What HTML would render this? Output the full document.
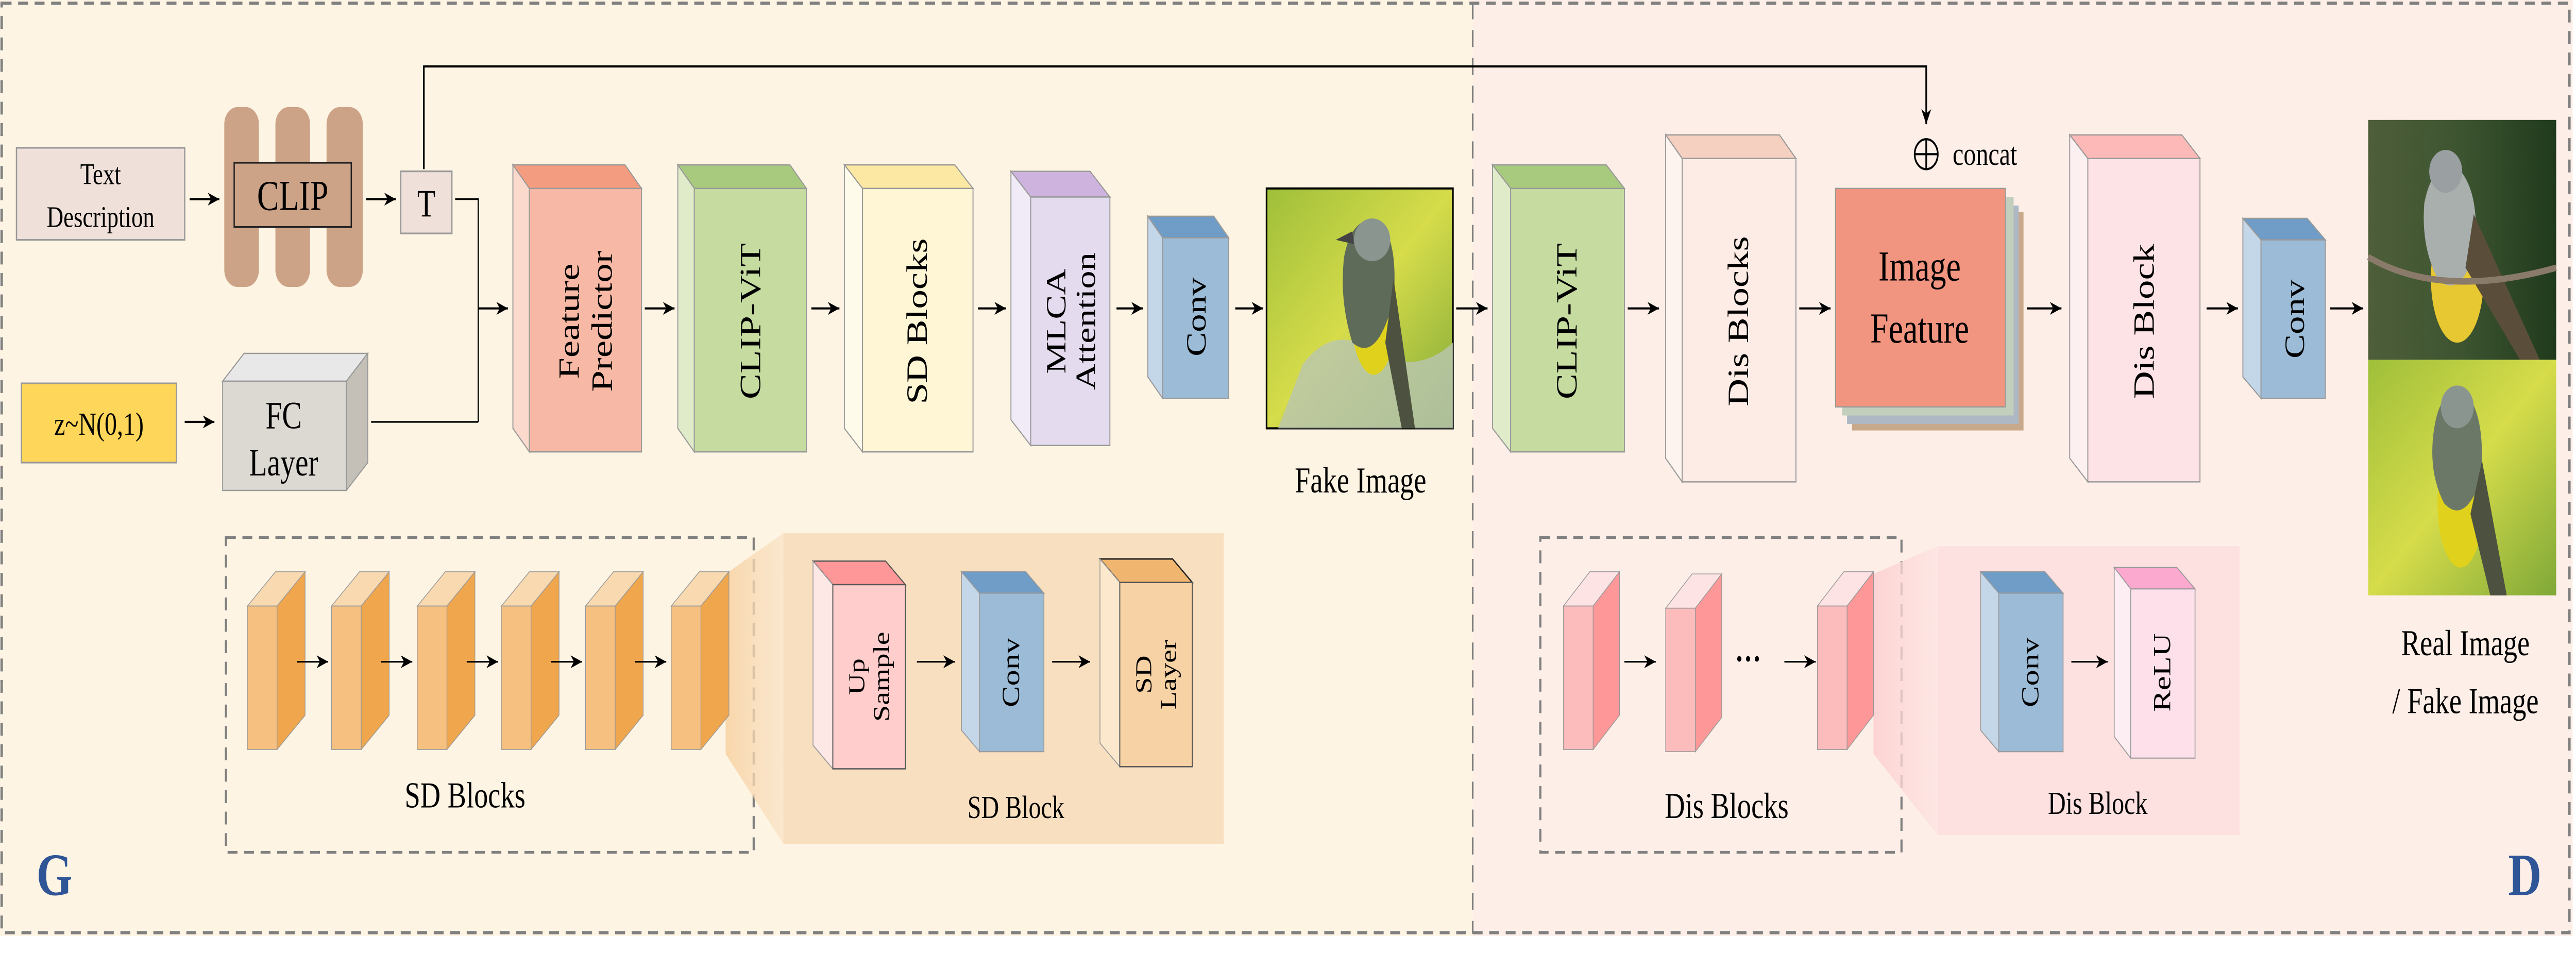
<!DOCTYPE html>
<html><head><meta charset="utf-8">
<style>
html,body{margin:0;padding:0;background:#fff;width:100vw;height:100vh;overflow:hidden;}
svg{display:block;position:fixed;left:0;top:0;width:100vw;height:100vh;}
text{font-family:"Liberation Serif",serif;fill:#000;}
</style></head><body>
<svg viewBox="0 0 1562 445" preserveAspectRatio="none" xmlns="http://www.w3.org/2000/svg">
<defs>
<marker id="a" markerWidth="8" markerHeight="8" refX="7" refY="4" orient="auto" markerUnits="userSpaceOnUse">
<path d="M0,1 L7,4 L0,7 L2,4 Z" fill="#000"/></marker>
<linearGradient id="bg1" x1="0" y1="0" x2="1" y2="1"><stop offset="0" stop-color="#9fbf3a"/><stop offset="0.5" stop-color="#d6dc4a"/><stop offset="1" stop-color="#7fa838"/></linearGradient>
<linearGradient id="bg2" x1="0" y1="0" x2="1" y2="0"><stop offset="0" stop-color="#4e5e3a"/><stop offset="0.5" stop-color="#3d5430"/><stop offset="1" stop-color="#1f3a1c"/></linearGradient>
<linearGradient id="fun1" x1="0" y1="0" x2="1" y2="0"><stop offset="0" stop-color="#f8d3a4" stop-opacity="0.9"/><stop offset="1" stop-color="#f8dfc0" stop-opacity="0.6"/></linearGradient>
<linearGradient id="fun2" x1="0" y1="0" x2="1" y2="0"><stop offset="0" stop-color="#fdd0d0" stop-opacity="0.9"/><stop offset="1" stop-color="#fde0e0" stop-opacity="0.6"/></linearGradient>
</defs>
<rect x="0" y="0" width="893" height="437" fill="#fef4e3"/>
<rect x="893" y="0" width="667" height="437" fill="#fdefe8"/>
<rect x="1" y="1.5" width="1557" height="434" fill="none" stroke="#808080" stroke-width="1.5" stroke-dasharray="6,4"/>
<line x1="893" y1="1" x2="893" y2="436" stroke="#808080" stroke-width="1" stroke-dasharray="8,5"/>

<rect x="10" y="69" width="102" height="43" fill="#efe1d9" stroke="#999" stroke-width="0.8"/>
<text x="61" y="86" font-size="14" text-anchor="middle">Text</text>
<text x="61" y="106" font-size="14" text-anchor="middle">Description</text>
<line x1="115" y1="93" x2="133" y2="93" stroke="#000" marker-end="url(#a)"/>
<rect x="136" y="50" width="21" height="84" rx="8" fill="#cca387"/>
<rect x="167" y="50" width="21" height="84" rx="8" fill="#cca387"/>
<rect x="198" y="50" width="22" height="84" rx="8" fill="#cca387"/>
<rect x="142" y="76" width="71" height="30" fill="#cca387" stroke="#222" stroke-width="0.8"/>
<text x="177.5" y="98" font-size="20" text-anchor="middle">CLIP</text>
<line x1="222" y1="93" x2="240" y2="93" stroke="#000" marker-end="url(#a)"/>
<rect x="243" y="80" width="31" height="29" fill="#efe1d9" stroke="#999" stroke-width="0.8"/>
<text x="258.5" y="101" font-size="18" text-anchor="middle">T</text>
<polyline points="276,93 290,93 290,197" fill="none" stroke="#000" stroke-width="0.8"/>
<polyline points="257,79 257,31 1168,31 1168,58" fill="none" stroke="#000" stroke-width="1" marker-end="url(#a)"/>
<rect x="13" y="179" width="94" height="37" fill="#fed75a" stroke="#999" stroke-width="0.8"/>
<text x="60" y="203" font-size="15" text-anchor="middle">z~N(0,1)</text>
<line x1="112" y1="197" x2="130" y2="197" stroke="#000" marker-end="url(#a)"/>
<polygon points="135,178 148,165 223,165 210,178" fill="#e8e8e8" stroke="#999" stroke-width="0.6"/>
<polygon points="210,178 223,165 223,216 210,229" fill="#c4c0b8" stroke="#999" stroke-width="0.6"/>
<rect x="135" y="178" width="75" height="51" fill="#dcd9d3" stroke="#999" stroke-width="0.6"/>
<text x="172" y="200" font-size="18" text-anchor="middle">FC</text>
<text x="172" y="222" font-size="18" text-anchor="middle">Layer</text>
<line x1="225" y1="197" x2="290" y2="197" stroke="#000" stroke-width="0.8"/>
<line x1="290" y1="144" x2="308" y2="144" stroke="#000" marker-end="url(#a)"/>

<polygon points="311,77 379,77 389,88 321,88" fill="#f49c7f" stroke="#999" stroke-width="0.6"/>
<polygon points="311,77 321,88 321,211 311,200" fill="#fbd9cc" stroke="#999" stroke-width="0.6"/>
<rect x="321" y="88" width="68" height="123" fill="#f7b9a5" stroke="#999" stroke-width="0.6"/>
<text transform="translate(355,150) rotate(-90)" font-size="18" text-anchor="middle"><tspan x="0" y="-4">Feature</tspan><tspan x="0" y="16">Predictor</tspan></text>
<line x1="391" y1="144" x2="409" y2="144" stroke="#000" marker-end="url(#a)"/>
<polygon points="411,77 479,77 489,88 421,88" fill="#a8ca7e" stroke="#999" stroke-width="0.6"/>
<polygon points="411,77 421,88 421,211 411,200" fill="#e0ecc9" stroke="#999" stroke-width="0.6"/>
<rect x="421" y="88" width="68" height="123" fill="#c5dba0" stroke="#999" stroke-width="0.6"/>
<text transform="translate(455,150) rotate(-90)" font-size="18" text-anchor="middle" y="6">CLIP-ViT</text>
<line x1="492" y1="144" x2="509" y2="144" stroke="#000" marker-end="url(#a)"/>
<polygon points="512,77 579,77 590,88 523,88" fill="#fde8a3" stroke="#999" stroke-width="0.6"/>
<polygon points="512,77 523,88 523,211 512,200" fill="#fffbeb" stroke="#999" stroke-width="0.6"/>
<rect x="523" y="88" width="67" height="123" fill="#fff6d5" stroke="#999" stroke-width="0.6"/>
<text transform="translate(556,150) rotate(-90)" font-size="18" text-anchor="middle" y="6">SD Blocks</text>
<line x1="593" y1="144" x2="610" y2="144" stroke="#000" marker-end="url(#a)"/>
<polygon points="613,80 661,80 673,92 625,92" fill="#cdb3dd" stroke="#999" stroke-width="0.6"/>
<polygon points="613,80 625,92 625,208 613,196" fill="#f0ebf6" stroke="#999" stroke-width="0.6"/>
<rect x="625" y="92" width="48" height="116" fill="#e5dbef" stroke="#999" stroke-width="0.6"/>
<text transform="translate(649,150) rotate(-90)" font-size="17" text-anchor="middle"><tspan x="0" y="-3">MLCA</tspan><tspan x="0" y="15">Attention</tspan></text>
<line x1="677" y1="144" x2="693" y2="144" stroke="#000" marker-end="url(#a)"/>
<polygon points="696,101 736,101 745,111 705,111" fill="#6f9dc7" stroke="#999" stroke-width="0.6"/>
<polygon points="696,101 705,111 705,186 696,176" fill="#c4d7e8" stroke="#999" stroke-width="0.6"/>
<rect x="705" y="111" width="40" height="75" fill="#9bbbd6" stroke="#999" stroke-width="0.6"/>
<text transform="translate(725,148) rotate(-90)" font-size="17" text-anchor="middle" y="6">Conv</text>
<line x1="749" y1="144" x2="766" y2="144" stroke="#000" marker-end="url(#a)"/>
<rect x="768" y="88" width="113" height="112" fill="url(#bg1)" stroke="#000" stroke-width="1"/>
<path d="M790,170 Q810,150 835,165 Q860,175 881,160 L881,200 L775,200 Z" fill="#b9c6b2" opacity="0.8"/>
<ellipse cx="833" cy="145" rx="14" ry="30" fill="#e0d21c"/>
<path d="M815,120 Q820,100 836,103 Q848,112 845,140 Q835,170 820,160 Q812,140 815,120Z" fill="#5e6b58"/>
<ellipse cx="832" cy="112" rx="11" ry="10" fill="#8a9590"/>
<path d="M820,108 L810,112 L821,114Z" fill="#444"/>
<path d="M845,130 L858,200 L850,200 L840,160Z" fill="#4d5240"/>
<text x="825" y="230" font-size="17" text-anchor="middle">Fake Image</text>
<line x1="883" y1="144" x2="902" y2="144" stroke="#000" marker-end="url(#a)"/>

<polygon points="905,77 974,77 985,88 916,88" fill="#a8ca7e" stroke="#999" stroke-width="0.6"/>
<polygon points="905,77 916,88 916,211 905,200" fill="#e0ecc9" stroke="#999" stroke-width="0.6"/>
<rect x="916" y="88" width="69" height="123" fill="#c5dba0" stroke="#999" stroke-width="0.6"/>
<text transform="translate(950,150) rotate(-90)" font-size="18" text-anchor="middle" y="6">CLIP-ViT</text>
<line x1="987" y1="144" x2="1006" y2="144" stroke="#000" marker-end="url(#a)"/>
<polygon points="1010,63 1079,63 1089,74 1020,74" fill="#f5cfc0" stroke="#999" stroke-width="0.6"/>
<polygon points="1010,63 1020,74 1020,225 1010,214" fill="#fdf3ef" stroke="#999" stroke-width="0.6"/>
<rect x="1020" y="74" width="69" height="151" fill="#fdece5" stroke="#999" stroke-width="0.6"/>
<text transform="translate(1054,150) rotate(-90)" font-size="18" text-anchor="middle" y="6">Dis Blocks</text>
<line x1="1091" y1="144" x2="1110" y2="144" stroke="#000" marker-end="url(#a)"/>
<rect x="1123" y="99" width="104" height="102" fill="#c9a98b"/>
<rect x="1120" y="96" width="104" height="102" fill="#adb8c4"/>
<rect x="1117" y="92" width="104" height="102" fill="#c3cfbd"/>
<rect x="1113" y="88" width="103" height="102" fill="#f29580" stroke="#999" stroke-width="0.6"/>
<text x="1164" y="131" font-size="20" text-anchor="middle">Image</text>
<text x="1164" y="160" font-size="20" text-anchor="middle">Feature</text>
<circle cx="1168" cy="72" r="7" fill="none" stroke="#000" stroke-width="1"/>
<line x1="1161" y1="72" x2="1175" y2="72" stroke="#000"/><line x1="1168" y1="65" x2="1168" y2="79" stroke="#000"/>
<text x="1184" y="77" font-size="15">concat</text>
<line x1="1229" y1="144" x2="1250" y2="144" stroke="#000" marker-end="url(#a)"/>
<polygon points="1255,63 1323,63 1334,74 1266,74" fill="#fdb9b7" stroke="#999" stroke-width="0.6"/>
<polygon points="1255,63 1266,74 1266,225 1255,214" fill="#fdf0f1" stroke="#999" stroke-width="0.6"/>
<rect x="1266" y="74" width="68" height="151" fill="#fde3e5" stroke="#999" stroke-width="0.6"/>
<text transform="translate(1300,150) rotate(-90)" font-size="18" text-anchor="middle" y="6">Dis Block</text>
<line x1="1338" y1="144" x2="1357" y2="144" stroke="#000" marker-end="url(#a)"/>
<polygon points="1360,102 1399,102 1410,112 1371,112" fill="#6f9dc7" stroke="#999" stroke-width="0.6"/>
<polygon points="1360,102 1371,112 1371,186 1360,176" fill="#c4d7e8" stroke="#999" stroke-width="0.6"/>
<rect x="1371" y="112" width="39" height="74" fill="#9bbbd6" stroke="#999" stroke-width="0.6"/>
<text transform="translate(1391,149) rotate(-90)" font-size="17" text-anchor="middle" y="6">Conv</text>
<line x1="1413" y1="144" x2="1433" y2="144" stroke="#000" marker-end="url(#a)"/>
<rect x="1436" y="56" width="114" height="112" fill="url(#bg2)"/>
<ellipse cx="1490" cy="130" rx="16" ry="30" fill="#e8c832"/>
<path d="M1470,95 Q1475,75 1490,78 Q1505,90 1500,120 Q1490,140 1478,130 Q1468,115 1470,95Z" fill="#a8afad"/>
<ellipse cx="1483" cy="80" rx="10" ry="10" fill="#9aa0a2"/>
<path d="M1500,100 L1540,168 L1528,168 L1495,125Z" fill="#5a4e3a"/>
<path d="M1436,120 Q1480,140 1550,125" stroke="#8a7a6a" stroke-width="3" fill="none"/>
<rect x="1436" y="168" width="114" height="110" fill="url(#bg1)"/>
<ellipse cx="1492" cy="235" rx="14" ry="30" fill="#e0d21c"/>
<path d="M1476,200 Q1480,180 1495,183 Q1508,195 1504,225 Q1494,245 1482,235 Q1472,220 1476,200Z" fill="#6b7868"/>
<ellipse cx="1490" cy="190" rx="10" ry="10" fill="#8a9590"/>
<path d="M1505,215 L1520,278 L1510,278 L1498,240Z" fill="#4d5240"/>
<text x="1495" y="306" font-size="17" text-anchor="middle">Real Image</text>
<text x="1495" y="333" font-size="17" text-anchor="middle">/ Fake Image</text>

<rect x="137" y="251" width="320" height="147" fill="none" stroke="#808080" stroke-width="1.3" stroke-dasharray="6,4"/>
<polygon points="440,268 475,249 475,394 440,352" fill="url(#fun1)"/>
<rect x="475" y="249" width="267" height="145" fill="#f8dfc0"/>
<g id="ob">
<polygon points="150,283 168,283 185,267 167,267" fill="#f8d9b0" stroke="#999" stroke-width="0.4"/>
<polygon points="168,283 185,267 185,334 168,350" fill="#f0a64c" stroke="#999" stroke-width="0.4"/>
<rect x="150" y="283" width="18" height="67" fill="#f5c080" stroke="#999" stroke-width="0.4"/>
</g>
<use href="#ob" x="51"/><use href="#ob" x="103"/><use href="#ob" x="154"/><use href="#ob" x="205"/><use href="#ob" x="257"/>
<line x1="180" y1="309" x2="199" y2="309" stroke="#000" stroke-width="0.8" marker-end="url(#a)"/>
<line x1="231" y1="309" x2="250" y2="309" stroke="#000" stroke-width="0.8" marker-end="url(#a)"/>
<line x1="283" y1="309" x2="302" y2="309" stroke="#000" stroke-width="0.8" marker-end="url(#a)"/>
<line x1="334" y1="309" x2="353" y2="309" stroke="#000" stroke-width="0.8" marker-end="url(#a)"/>
<line x1="385" y1="309" x2="404" y2="309" stroke="#000" stroke-width="0.8" marker-end="url(#a)"/>
<text x="282" y="377" font-size="17" text-anchor="middle">SD Blocks</text>
<polygon points="493,262 537,262 549,273 505,273" fill="#fe9797" stroke="#555" stroke-width="0.6"/>
<polygon points="493,262 505,273 505,359 493,348" fill="#fee8e6" stroke="#999" stroke-width="0.5"/>
<rect x="505" y="273" width="44" height="86" fill="#fecdcc" stroke="#555" stroke-width="0.6"/>
<text transform="translate(527,316) rotate(-90)" font-size="14" text-anchor="middle"><tspan x="0" y="-3">Up</tspan><tspan x="0" y="12">Sample</tspan></text>
<line x1="556" y1="309" x2="579" y2="309" stroke="#000" stroke-width="0.8" marker-end="url(#a)"/>
<polygon points="583,267 622,267 633,277 594,277" fill="#6f9dc7" stroke="#999" stroke-width="0.5"/>
<polygon points="583,267 594,277 594,351 583,341" fill="#c4d7e8" stroke="#999" stroke-width="0.5"/>
<rect x="594" y="277" width="39" height="74" fill="#9bbbd6" stroke="#999" stroke-width="0.5"/>
<text transform="translate(613,314) rotate(-90)" font-size="15" text-anchor="middle" y="5">Conv</text>
<line x1="638" y1="309" x2="661" y2="309" stroke="#000" stroke-width="0.8" marker-end="url(#a)"/>
<polygon points="667,261 711,261 723,272 679,272" fill="#f0b56e" stroke="#222" stroke-width="0.7"/>
<polygon points="667,261 679,272 679,358 667,347" fill="#fce8cc" stroke="#999" stroke-width="0.5"/>
<rect x="679" y="272" width="44" height="86" fill="#f7d2a5" stroke="#555" stroke-width="0.6"/>
<text transform="translate(701,315) rotate(-90)" font-size="14" text-anchor="middle"><tspan x="0" y="-3">SD</tspan><tspan x="0" y="12">Layer</tspan></text>
<text x="616" y="382" font-size="15" text-anchor="middle">SD Block</text>
<text x="33" y="418" font-size="28" font-weight="bold" text-anchor="middle" style="fill:#2f5597">G</text>

<rect x="934" y="251" width="219" height="147" fill="none" stroke="#808080" stroke-width="1.3" stroke-dasharray="6,4"/>
<polygon points="1136,268 1175,255 1175,390 1136,352" fill="url(#fun2)"/>
<rect x="1175" y="255" width="183" height="135" fill="#fde0e0"/>
<g id="pb">
<polygon points="948,283 966,283 982,267 964,267" fill="#fde3e3" stroke="#999" stroke-width="0.4"/>
<polygon points="966,283 982,267 982,334 966,350" fill="#fe9898" stroke="#999" stroke-width="0.4"/>
<rect x="948" y="283" width="18" height="67" fill="#fdbcbc" stroke="#999" stroke-width="0.4"/>
</g>
<use href="#pb" x="62" y="1"/><use href="#pb" x="154"/>
<line x1="985" y1="309" x2="1004" y2="309" stroke="#000" stroke-width="0.8" marker-end="url(#a)"/>
<text x="1060" y="313" font-size="16" font-weight="bold" text-anchor="middle">···</text>
<line x1="1082" y1="309" x2="1101" y2="309" stroke="#000" stroke-width="0.8" marker-end="url(#a)"/>
<text x="1047" y="382" font-size="17" text-anchor="middle">Dis Blocks</text>
<polygon points="1201,267 1240,267 1251,277 1212,277" fill="#6f9dc7" stroke="#999" stroke-width="0.5"/>
<polygon points="1201,267 1212,277 1212,351 1201,341" fill="#c4d7e8" stroke="#999" stroke-width="0.5"/>
<rect x="1212" y="277" width="39" height="74" fill="#9bbbd6" stroke="#999" stroke-width="0.5"/>
<text transform="translate(1231,314) rotate(-90)" font-size="15" text-anchor="middle" y="5">Conv</text>
<line x1="1256" y1="309" x2="1278" y2="309" stroke="#000" stroke-width="0.8" marker-end="url(#a)"/>
<polygon points="1282,265 1320,265 1331,275 1292,275" fill="#fca9cf" stroke="#999" stroke-width="0.5"/>
<polygon points="1282,265 1292,275 1292,354 1282,344" fill="#fdeef3" stroke="#999" stroke-width="0.5"/>
<rect x="1292" y="275" width="39" height="79" fill="#fde0ea" stroke="#999" stroke-width="0.5"/>
<text transform="translate(1311,314) rotate(-90)" font-size="15" text-anchor="middle" y="5">ReLU</text>
<text x="1272" y="380" font-size="15" text-anchor="middle">Dis Block</text>
<text x="1531" y="418" font-size="28" font-weight="bold" text-anchor="middle" style="fill:#2f5597">D</text>
</svg>
</body></html>
